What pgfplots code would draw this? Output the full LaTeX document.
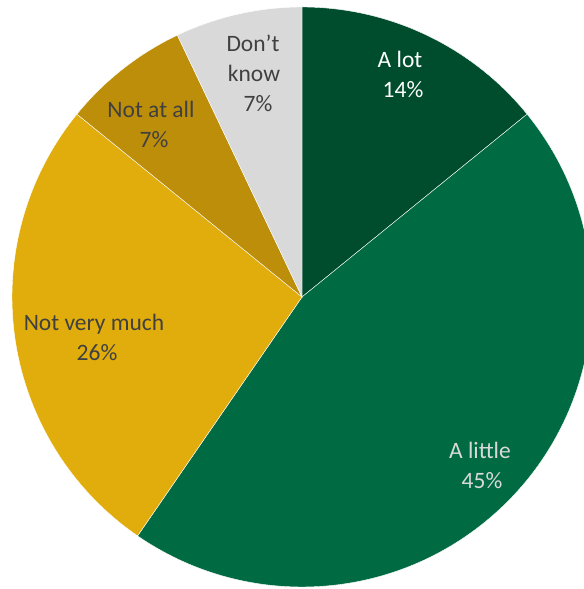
\documentclass[border=0pt]{standalone}
\usepackage{fontspec}
\setmainfont{Carlito}
\usepackage{pgfplots}
\pgfplotsset{compat=1.18}
\definecolor{cAlot}{HTML}{004D2E}
\definecolor{cAlittle}{HTML}{006A42}
\definecolor{cNotvery}{HTML}{E0AD0C}
\definecolor{cNotall}{HTML}{BC8E0A}
\definecolor{cDont}{HTML}{D9D9D9}
\definecolor{lbl}{HTML}{404040}
\newcommand{\lblfont}{\fontsize{23.5bp}{29bp}\selectfont}
\tikzset{lab/.style={font=\lblfont, anchor=base, inner sep=0pt}}
% shares (percent); total 99
% A lot 14, A little 45, Not very much 26, Not at all 7, Don't know 7
\newcommand{\slice}[3]{%
  \fill[#3, draw=white, line width=0.4bp] (axis cs:302,297) -- ++({90-360/99*#1}:290bp)
    arc[start angle={90-360/99*#1}, end angle={90-360/99*#2}, radius=290bp] -- cycle;}
\begin{document}
\begin{tikzpicture}
\begin{axis}[hide axis, scale only axis, x=1bp, y=1bp,
  xmin=0, xmax=584, ymin=0, ymax=589, y dir=reverse, clip=true]
\addplot[draw=none] coordinates {(0,0) (584,589)};
\path (rel axis cs:0,0) rectangle (rel axis cs:1,1);
\slice{0}{14}{cAlot}
\slice{14}{59}{cAlittle}
\slice{59}{85}{cNotvery}
\slice{85}{92}{cNotall}
\slice{92}{99}{cDont}
\node[lab, text=white] at (axis cs:400,68) {A lot};
\node[lab, text=white] at (axis cs:403,98) {14\%};
\node[lab, text=cDont] at (axis cs:480,458) {A little};
\node[lab, text=cDont] at (axis cs:482,488) {45\%};
\node[lab, text=lbl] at (axis cs:94,330) {Not very much};
\node[lab, text=lbl] at (axis cs:97,360) {26\%};
\node[lab, text=lbl] at (axis cs:151,118) {Not at all};
\node[lab, text=lbl] at (axis cs:154,148) {7\%};
\node[lab, text=lbl] at (axis cs:253,52) {Don’t};
\node[lab, text=lbl] at (axis cs:254,82) {know};
\node[lab, text=lbl] at (axis cs:258,112) {7\%};
\end{axis}
\end{tikzpicture}
\end{document}
